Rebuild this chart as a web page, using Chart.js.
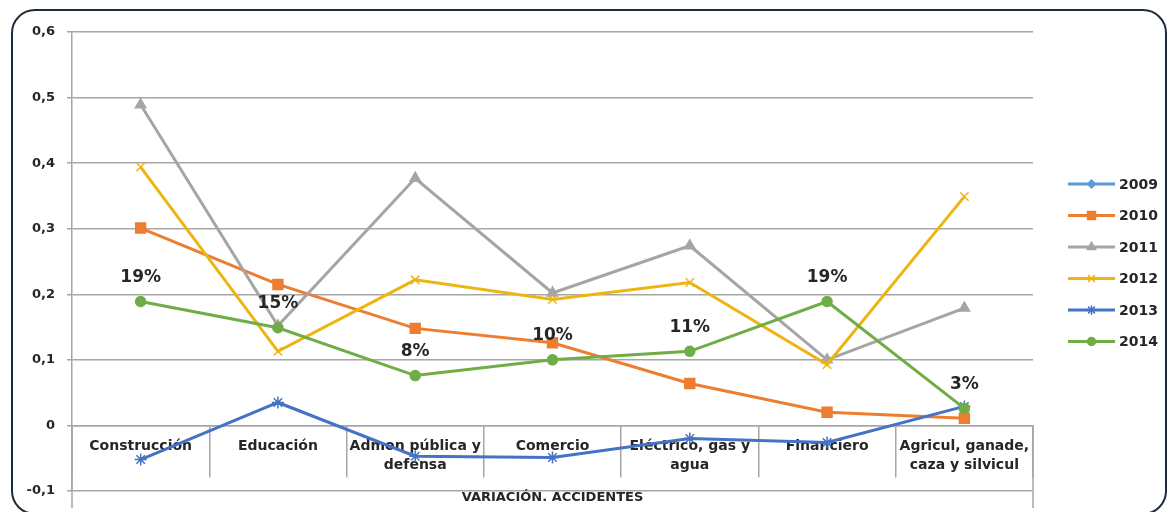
<!DOCTYPE html>
<html>
<head>
<meta charset="utf-8">
<script src="https://cdn.jsdelivr.net/npm/chart.js@4.4.0/dist/chart.umd.min.js"></script>
<style>
html, body { margin: 0; padding: 0; background: #fff; overflow: hidden; }
#wrap { position: relative; width: 1168px; height: 512px; overflow: hidden; }
#marco { position: absolute; left: 11px; top: 9px; width: 1152px; height: 502px;
         border: 2px solid #1f2c3b; border-radius: 24px; pointer-events: none; }
canvas { position: absolute; left: 0; top: 0; }
</style>
</head>
<body>
<div id="wrap">
  <canvas id="grafico" width="1168" height="512"></canvas>
  <div id="marco"></div>
</div>
<script>
// Sectores (eje X) y años (series)
var sectores = [["Construcción"], ["Educación"], ["Admon pública y", "defensa"], ["Comercio"],
                ["Eléctrico, gas y", "agua"], ["Financiero"], ["Agricul, ganade,", "caza y silvicul"]];
var anios = ["2009", "2010", "2011", "2012", "2013", "2014"];

// Valores
var v2009 = [];
var v2010 = [0.301, 0.215, 0.148, 0.126, 0.064, 0.020, 0.011];
var v2011 = [0.489, 0.152, 0.377, 0.202, 0.274, 0.100, 0.179];
var v2012 = [0.394, 0.113, 0.222, 0.192, 0.218, 0.093, 0.349];
var v2013 = [-0.052, 0.035, -0.047, -0.049, -0.020, -0.026, 0.029];
var v2014 = [0.189, 0.149, 0.076, 0.100, 0.113, 0.189, 0.026];

var etiquetasY = ["-0,1", "0", "0,1", "0,2", "0,3", "0,4", "0,5", "0,6"];
var tituloX = "VARIACIÓN. ACCIDENTES";

var colores = ["#5B9BD5", "#ED7D31", "#A5A5A5", "#EDB511", "#4472C4", "#70AD47"];
var marcas = ["rectRot", "rect", "triangle", "crossRot", "star", "circle"];
var radios = [5, 7, 6, 6, 6, 5];
var valores = [v2009, v2010, v2011, v2012, v2013, v2014];

var fuente = "'DejaVu Sans', sans-serif";
var gris = "#A6A6A6";
var texto = "#262626";

var datasets = anios.map(function (a, i) {
    return {
        label: a,
        data: valores[i],
        borderColor: colores[i],
        backgroundColor: colores[i],
        borderWidth: 3,
        pointStyle: marcas[i],
        pointRadius: radios[i],
        pointHoverRadius: radios[i],
        pointBorderColor: colores[i],
        pointBackgroundColor: colores[i],
        pointBorderWidth: 1.5,
        tension: 0,
        fill: false,
        order: anios.length - 1 - i
    };
});

// Etiquetas de porcentaje sobre la serie 2014, título y leyenda
var extras = {
    id: "extras",
    afterDatasetsDraw: function (chart) {
        var ctx = chart.ctx;
        var area = chart.chartArea;
        var y = chart.scales.y;
        var cero = y.getPixelForValue(0);
        var fondo = y.getPixelForValue(-0.1) + 17;
        ctx.save();

        // lineas exteriores de la tabla de categorías
        ctx.strokeStyle = gris;
        ctx.lineWidth = 1.5;
        ctx.beginPath();
        ctx.moveTo(area.left, cero); ctx.lineTo(area.left, fondo);
        ctx.moveTo(area.right, cero); ctx.lineTo(area.right, fondo);
        ctx.stroke();

        // porcentajes 2014
        var meta = chart.getDatasetMeta(5);
        ctx.fillStyle = texto;
        ctx.font = "bold 17px " + fuente;
        ctx.textAlign = "center";
        ctx.textBaseline = "middle";
        meta.data.forEach(function (p, k) {
            ctx.fillText(Math.round(v2014[k] * 100) + "%", p.x, p.y - 24);
        });

        // título del eje
        ctx.font = "bold 13px " + fuente;
        ctx.fillText(tituloX, (area.left + area.right) / 2, y.getPixelForValue(-0.1) + 7);

        // leyenda
        var lx = area.right + 35;
        var ly = 184;
        ctx.textAlign = "left";
        ctx.font = "bold 14px " + fuente;
        chart.data.datasets.forEach(function (ds, i) {
            var yy = ly + i * 31.5;
            ctx.strokeStyle = ds.borderColor;
            ctx.fillStyle = ds.borderColor;
            ctx.lineWidth = 3;
            ctx.beginPath();
            ctx.moveTo(lx, yy); ctx.lineTo(lx + 47, yy);
            ctx.stroke();
            ctx.lineWidth = 1.5;
            Chart.helpers.drawPoint(ctx, { pointStyle: ds.pointStyle, radius: ds.pointRadius * 0.8, rotation: 0, borderWidth: 1.5 }, lx + 23.5, yy);
            ctx.fillStyle = texto;
            ctx.fillText(ds.label, lx + 51, yy + 1);
        });
        ctx.restore();
    }
};

var ctx = document.getElementById("grafico").getContext("2d");
var chart = new Chart(ctx, {
    type: "line",
    data: {
        labels: sectores,
        datasets: datasets
    },
    options: {
        responsive: false,
        animation: false,
        layout: { padding: { top: 32, right: 135, bottom: 21, left: 0 } },
        plugins: {
            legend: { display: false },
            tooltip: { enabled: false }
        },
        scales: {
            x: {
                type: "category",
                position: { y: 0 },
                offset: true,
                grid: {
                    drawOnChartArea: false,
                    offset: true,
                    tickLength: 51,
                    color: gris,
                    lineWidth: 1.5
                },
                border: { display: true, color: gris, width: 1.5 },
                ticks: {
                    autoSkip: false,
                    maxRotation: 0,
                    padding: -40,
                    color: texto,
                    font: { family: fuente, size: 14, weight: "bold", lineHeight: 1.4 }
                }
            },
            y: {
                min: -0.1,
                max: 0.6,
                afterFit: function (s) { s.width = 72; },
                grid: { color: gris, lineWidth: 1.5, tickLength: 5 },
                border: { display: true, color: gris, width: 1.5 },
                ticks: {
                    stepSize: 0.1,
                    padding: 12,
                    color: texto,
                    font: { family: fuente, size: 13, weight: "bold" },
                    callback: function (v) {
                        var k = Math.round(v * 10) + 1;
                        return etiquetasY[k];
                    }
                }
            }
        }
    },
    plugins: [extras]
});
</script>
</body>
</html>
